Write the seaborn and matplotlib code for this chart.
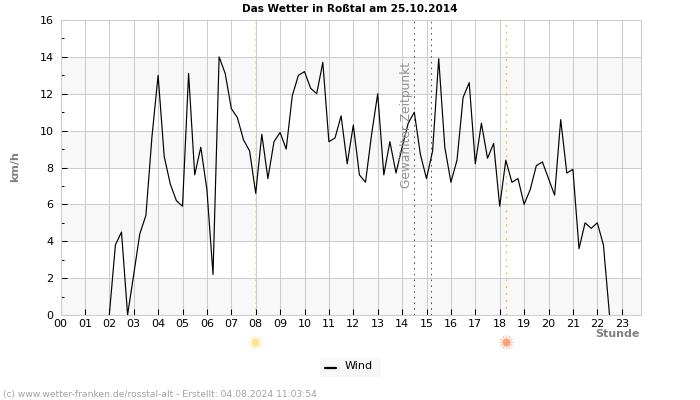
import matplotlib
matplotlib.use("Agg")
import matplotlib.pyplot as plt
import numpy as np
import pandas as pd
import seaborn as sns

# Wind readings every 15 minutes, 02:00 to 22:30
stunde = [2 + i * 0.25 for i in range(83)]
wind = [0, 3.8, 4.5, 0, 2.2, 4.4, 5.4, 9.7, 13, 8.6, 7.1, 6.2,
        5.9, 13.1, 7.6, 9.1, 6.8, 2.2, 14, 13.1, 11.2, 10.7, 9.5, 8.9,
        6.6, 9.8, 7.4, 9.4, 9.9, 9.0, 11.9, 13, 13.2, 12.3, 12, 13.7,
        9.4, 9.6, 10.8, 8.2, 10.3, 7.6, 7.2, 9.8, 12, 7.6, 9.4, 7.7,
        9.1, 10.4, 11, 8.7, 7.4, 8.9, 13.9, 9.1, 7.2, 8.4, 11.8, 12.6,
        8.2, 10.4, 8.5, 9.3, 5.9, 8.4, 7.2, 7.4, 6.0, 6.8, 8.1, 8.3,
        7.4, 6.5, 10.6, 7.7, 7.9, 3.6, 5.0, 4.7, 5.0, 3.8, 0]
stunden_labels = [f"{h:02d}" for h in range(24)]
y_labels = list(range(0, 17, 2))
baender = [(0, 2), (4, 6), (8, 10), (12, 14)]
sonnenaufgang = 7.97
sonnenuntergang = 18.25
zeitpunkt = [14.5, 15.2]

df = pd.DataFrame({"stunde": stunde, "wind": wind})

sns.set_theme(style="white")
plt.rcParams["font.family"] = ["DejaVu Sans"]

fig = plt.figure(figsize=(7, 4), dpi=100)
ax = fig.add_axes([60.5 / 700, 1 - 315 / 400, 580 / 700, 295 / 400])

for von, bis in baender:
    ax.axhspan(von, bis, color="#f8f8f8", lw=0, zorder=0)
ax.grid(True, color="#cccccc", lw=0.75)
ax.set_axisbelow(True)

punkte = (0, (1.5, 4))
ax.axvline(sonnenaufgang, color="#f5e070", ls=punkte, lw=0.75, zorder=3)
ax.axvline(sonnenuntergang, color="#ffb347", ls=punkte, lw=0.9, zorder=3)
for t in zeitpunkt:
    ax.axvline(t, color="#555555", ls=punkte, lw=0.75, zorder=3)
ax.text(14.46, 6.9, "Gewählter Zeitpunkt", rotation=90, ha="right",
        va="bottom", fontsize=8.8, color="#909090", zorder=5)

sns.lineplot(data=df, x="stunde", y="wind", color="black", lw=0.85, ax=ax,
             legend=False, zorder=4)

ax.set_xlim(0, 23.77)
ax.set_ylim(0, 16)
ax.set_xticks(range(24), stunden_labels)
ax.set_yticks(y_labels)
ax.set_yticks(range(1, 16, 2), minor=True)
ax.tick_params(axis="x", direction="in", length=4, width=0.75, color="black",
               labelsize=8, pad=3, labelcolor="black", bottom=True, zorder=3)
ax.tick_params(axis="y", which="major", direction="in", length=4, width=0.75,
               color="black", labelsize=8, pad=5, labelcolor="black", left=True, zorder=3)
ax.tick_params(axis="y", which="minor", direction="in", length=2.5, width=0.75,
               color="black", left=True, zorder=3)
for s in ax.spines.values():
    s.set_color("#cccccc")
    s.set_linewidth(0.75)
ax.set_xlabel("")
ax.set_ylabel("")

# sun symbols below the axis
trans = ax.get_xaxis_transform()
for pos, farbe, strahl in [(sonnenaufgang, "#ffe48a", "#fff0c0"),
                           (sonnenuntergang, "#ff9f80", "#ffc8b0")]:
    ax.plot([pos], [-0.09], marker=(12, 2, 0), ms=10, mec=strahl, mew=0.7,
            transform=trans, clip_on=False)
    ax.plot([pos], [-0.09], marker="o", ms=5.5, color=farbe, mew=0,
            transform=trans, clip_on=False)

fig.text(350 / 700, 1 - 8.5 / 400, "Das Wetter in Roßtal am 25.10.2014",
         ha="center", va="center", fontsize=7.6, fontweight="bold", color="black")
fig.text(15.5 / 700, 1 - 167 / 400, "km/h", rotation=90, ha="center", va="center",
         fontsize=8, fontweight="bold", color="#808080")
fig.text(640 / 700, 1 - 334 / 400, "Stunde", ha="right", va="center",
         fontsize=8, fontweight="bold", color="#808080")
fig.text(3 / 700, 1 - 394 / 400, "(c) www.wetter-franken.de/rosstal-alt - Erstellt: 04.08.2024 11:03:54",
         ha="left", va="center", fontsize=6.55, color="#a0a0a0")

# legend box
fig.patches.append(plt.Rectangle((320 / 700, 1 - 377 / 400), 61 / 700, 19 / 400,
                                 transform=fig.transFigure, color="#f7f7f7", lw=0))
fig.add_artist(plt.Line2D([325 / 700, 336 / 700], [1 - 368 / 400] * 2, color="black", lw=1.6))
fig.text(345 / 700, 1 - 366 / 400, "Wind", ha="left", va="center", fontsize=8, color="black")

fig.savefig("out.png", dpi=100)
